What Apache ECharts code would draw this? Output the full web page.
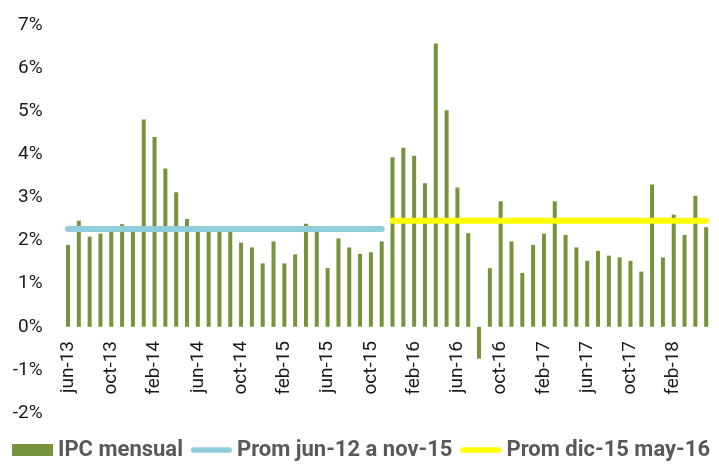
<!DOCTYPE html>
<html>
<head>
<meta charset="utf-8">
<script src="https://cdn.jsdelivr.net/npm/echarts@6/dist/echarts.min.js"></script>
<style>
  html, body { margin: 0; padding: 0; background: #fff; }
  #chart { width: 719px; height: 464px; }
</style>
</head>
<body>
<div id="chart"></div>
<script>
// meses jun-13 .. may-18
var months = [
    'jun-13','jul-13','ago-13','sep-13','oct-13','nov-13','dic-13',
    'ene-14','feb-14','mar-14','abr-14','may-14','jun-14','jul-14','ago-14','sep-14','oct-14','nov-14','dic-14',
    'ene-15','feb-15','mar-15','abr-15','may-15','jun-15','jul-15','ago-15','sep-15','oct-15','nov-15','dic-15',
    'ene-16','feb-16','mar-16','abr-16','may-16','jun-16','jul-16','ago-16','sep-16','oct-16','nov-16','dic-16',
    'ene-17','feb-17','mar-17','abr-17','may-17','jun-17','jul-17','ago-17','sep-17','oct-17','nov-17','dic-17',
    'ene-18','feb-18','mar-18','abr-18','may-18'
];

var ipcMensual = [
    1.90, 2.46, 2.09, 2.16, 2.20, 2.38, 2.20,
    4.81, 4.40, 3.67, 3.12, 2.50, 2.34, 2.20, 2.20, 2.20, 1.95, 1.84, 1.47,
    1.98, 1.47, 1.68, 2.39, 2.20, 1.36, 2.05, 1.84, 1.69, 1.73, 1.98, 3.93,
    4.15, 3.97, 3.33, 6.57, 5.02, 3.23, 2.17, -0.74, 1.36, 2.91, 1.98, 1.25,
    1.90, 2.16, 2.91, 2.13, 1.84, 1.53, 1.76, 1.65, 1.61, 1.53, 1.28, 3.30,
    1.61, 2.60, 2.13, 3.04, 2.31
];

// promedios por tramo
var promJun12Nov15 = 2.27;   // jun-13 .. nov-15 en el grafico
var promDic15May16 = 2.46;   // dic-15 .. may-18
var corte = 30;              // primer indice del segundo tramo

var yTicks = [-2, -1, 0, 1, 2, 3, 4, 5, 6, 7];

var linea1 = months.map(function (m, i) { return i < corte ? promJun12Nov15 : null; });
var linea2 = months.map(function (m, i) { return i >= corte ? promDic15May16 : null; });

var chart = echarts.init(document.getElementById('chart'));

var font = 'Roboto, "DejaVu Sans", sans-serif';
var lineIcon = 'path://M3,0 L40,0 A3,3 0 0 1 40,6 L3,6 A3,3 0 0 1 3,0 Z';

var option = {
    animation: false,
    grid: {
        left: 62.6,
        right: 7.4,
        top: 25,
        bottom: 51,
        containLabel: false,
        outerBoundsMode: 'none'
    },
    legend: {
        left: 12,
        top: 439,
        width: 707,
        padding: 0,
        itemWidth: 41,
        itemHeight: 12,
        itemGap: 8,
        textStyle: {
            fontFamily: font,
            fontSize: 22,
            fontWeight: 'bold',
            color: '#595959'
        },
        data: [
            { name: 'IPC mensual', icon: 'rect' },
            { name: 'Prom jun-12 a nov-15', icon: lineIcon },
            { name: 'Prom dic-15 may-16', icon: lineIcon }
        ]
    },
    xAxis: {
        type: 'category',
        data: months,
        // etiquetas pegadas a la linea del 0%
        offset: -88,
        axisLine: { show: false, onZero: false },
        axisTick: { show: false },
        axisLabel: {
            interval: 3,
            rotate: 90,
            margin: 16,
            fontFamily: font,
            fontSize: 19,
            color: '#1a1a1a'
        }
    },
    yAxis: {
        type: 'value',
        min: yTicks[0],
        max: yTicks[yTicks.length - 1],
        interval: 1,
        splitLine: { show: false },
        axisLine: { show: false },
        axisTick: { show: false },
        axisLabel: {
            margin: 20,
            fontFamily: font,
            fontSize: 19,
            color: '#1a1a1a',
            formatter: '{value}%'
        }
    },
    series: [
        {
            name: 'IPC mensual',
            type: 'bar',
            barWidth: 4,
            itemStyle: { color: '#77933C' },
            data: ipcMensual
        },
        {
            name: 'Prom jun-12 a nov-15',
            type: 'line',
            symbol: 'none',
            z: 3,
            itemStyle: { color: '#92CDDC' },
            lineStyle: { color: '#92CDDC', width: 6, cap: 'round' },
            data: linea1
        },
        {
            name: 'Prom dic-15 may-16',
            type: 'line',
            symbol: 'none',
            z: 3,
            itemStyle: { color: '#FFFF00' },
            lineStyle: { color: '#FFFF00', width: 6, cap: 'round' },
            data: linea2
        }
    ]
};
chart.setOption(option);
</script>
</body>
</html>
